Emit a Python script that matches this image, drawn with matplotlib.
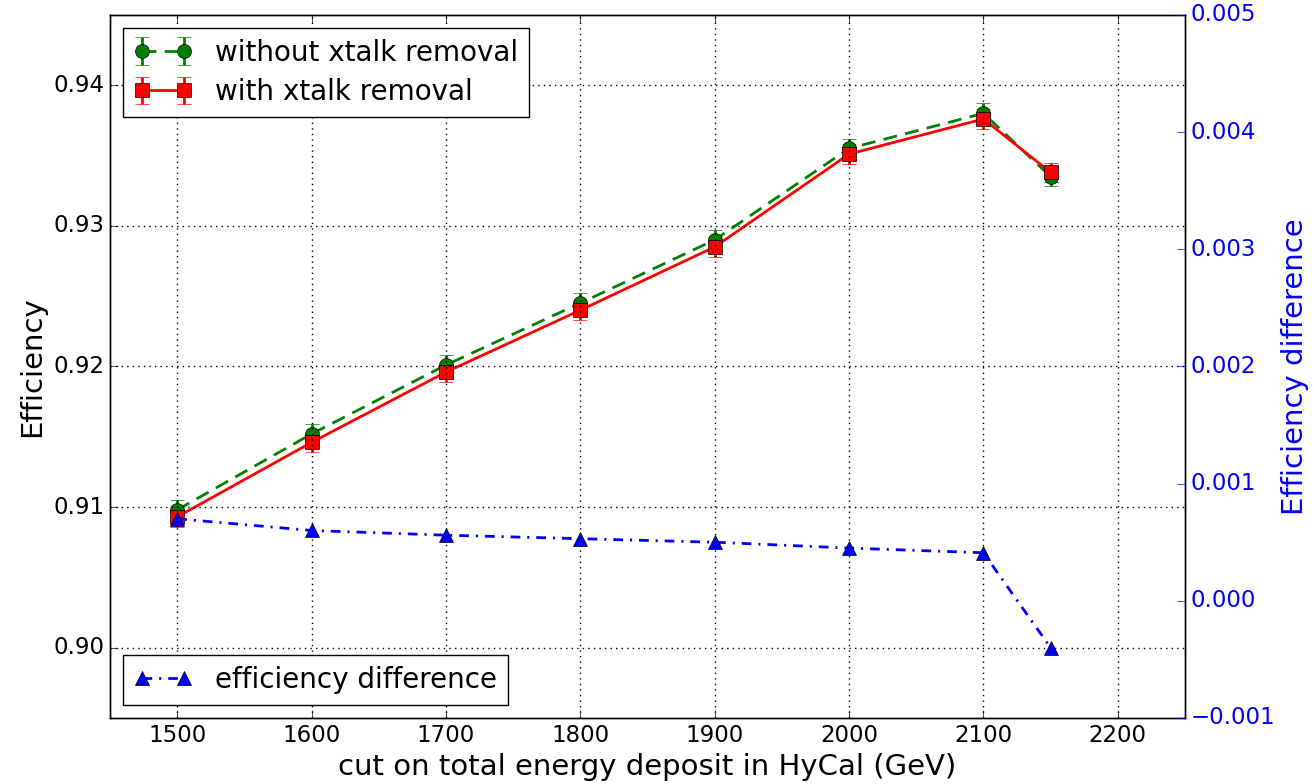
import matplotlib
matplotlib.use("Agg")
import matplotlib.pyplot as plt

cuts = [1500, 1600, 1700, 1800, 1900, 2000, 2100, 2150]
eff_without = [0.9098, 0.9152, 0.9201, 0.9245, 0.9290, 0.9355, 0.9380, 0.9335]
eff_with = [0.9093, 0.9146, 0.9196, 0.9240, 0.9285, 0.9351, 0.9376, 0.9338]
err_without = [0.0007, 0.0007, 0.0007, 0.0007, 0.0007, 0.0007, 0.0007, 0.0007]
err_with = [0.0007, 0.0007, 0.0007, 0.0007, 0.0007, 0.0007, 0.0007, 0.0007]
eff_diff = [0.00070, 0.00060, 0.00056, 0.00053, 0.00050, 0.00045, 0.00041, -0.00040]

xticks = [1500, 1600, 1700, 1800, 1900, 2000, 2100, 2200]
yticks_left = [0.90, 0.91, 0.92, 0.93, 0.94]
yticks_right = [-0.001, 0.000, 0.001, 0.002, 0.003, 0.004, 0.005]

plt.style.use("classic")
plt.rcParams["font.family"] = ["DejaVu Sans"]

fig = plt.figure(figsize=(13.14, 7.84), dpi=100, facecolor="white")
ax = fig.add_axes([0.0837, 0.0842, 0.8181, 0.8968])

ax.errorbar(cuts, eff_without, yerr=err_without, fmt="o", linestyle=(0, (10, 6)),
            color="green", mfc="green", mec="black", ms=10, lw=2, capsize=5,
            ecolor="green", label="without xtalk removal")
ax.errorbar(cuts, eff_with, yerr=err_with, fmt="s-", color="red",
            mfc="red", mec="black", ms=10, lw=2, capsize=5, ecolor="red",
            label="with xtalk removal")
ax.set_xlim(1450, 2250)
ax.set_ylim(0.895, 0.945)
ax.set_xticks(xticks)
ax.set_yticks(yticks_left)
ax.set_yticklabels([f"{v:.2f}" for v in yticks_left])
ax.grid(True, color="black", linestyle=":", linewidth=1)
ax.tick_params(axis="both", labelsize=16.5, direction="in", length=6)
ax.set_xlabel("cut on total energy deposit in HyCal (GeV)", fontsize=21)
ax.set_ylabel("Efficiency", fontsize=21)
ax.legend(loc="upper left", numpoints=2, fontsize=20, fancybox=False,
          handlelength=2.1, borderaxespad=0.47, labelspacing=0.4)

ax2 = ax.twinx()
ax2.plot(cuts, eff_diff, "^", linestyle=(0, (7, 5, 1.5, 5)), color="blue",
         mfc="blue", mec="black", ms=10, lw=2, label="efficiency difference")
ax2.set_ylim(-0.001, 0.005)
ax2.set_yticks(yticks_right)
ax2.set_yticklabels([f"{v:.3f}".replace("-", "\u2212") for v in yticks_right])
ax2.tick_params(axis="y", labelsize=16.5, colors="blue", direction="in", length=6)
ax2.set_ylabel("Efficiency difference", fontsize=21, color="blue", labelpad=4)
ax2.legend(loc="lower left", numpoints=2, fontsize=20, fancybox=False,
           handlelength=2.1, borderaxespad=0.47)
ax2.set_xlim(1450, 2250)

fig.savefig("out.png", dpi=100, facecolor="white")
